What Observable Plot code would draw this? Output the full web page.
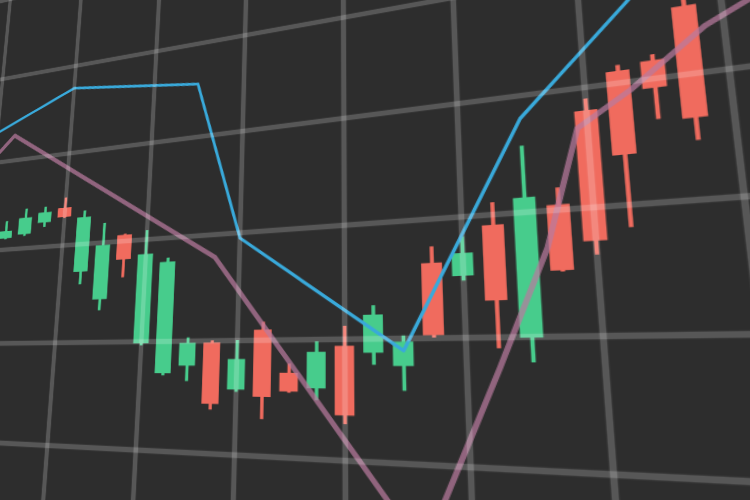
<!DOCTYPE html>
<html>
<head>
<meta charset="utf-8">
<script src="https://cdn.jsdelivr.net/npm/d3@7"></script>
<script src="https://cdn.jsdelivr.net/npm/@observablehq/plot@0.6"></script>
<style>
  html, body { margin: 0; padding: 0; background: #2d2d2d; width: 750px; height: 500px; overflow: hidden; }
  #chart { position: relative; width: 750px; height: 500px; overflow: hidden; }
</style>
</head>
<body>
<div id="chart"></div>
<script>
// ---- Data (candle index, prices) ----
const candleIndex = [1,2,3,4,5,6,7,8,9,10,11,12,13,14,15,16,17,18,19,20,21,22,23,24,25,26,27];
const openPrice  = [121.2,121.5,122.6,124.0,117.1,114.2,120.6,109.8,107.0,107.7,109.8,105.6,110.9,107.1,105.8,109.4,108.8,107.7,116.2,115.0,119.1,109.9,120.4,128.0,131.0,131.5,135.7];
const closePrice = [122.0,123.3,123.7,123.0,122.8,119.7,118.1,118.5,117.6,109.8,104.3,108.3,105.0,105.5,108.9,103.6,112.0,109.7,110.2,116.9,112.9,121.2,115.1,117.3,124.0,129.2,126.4];
const highPrice  = [123.1,124.3,124.3,125.1,123.5,122.0,120.7,120.9,118.0,110.3,110.0,110.0,111.6,107.9,109.8,111.1,112.8,110.2,117.6,118.3,121.0,125.6,121.8,129.0,131.5,132.0,137.5];
const lowPrice   = [121.1,121.3,122.1,122.9,115.8,113.1,116.3,109.6,106.8,106.3,103.8,105.4,103.1,105.4,104.8,102.9,107.8,105.7,110.0,114.6,109.1,108.0,115.0,116.2,118.2,126.6,124.6];

const blueIndex = [-2,0,4,10,12,18,22,28];
const blueValue = [131.5,133.5,137.4,135.6,119.5,109.0,128.0,143.6];

const pinkIndex = [-1,1,11,18.5,21,22.6,23.7,25.3,27.5,31];
const pinkValue = [128.4,132.9,117.8,93.5,107.6,117.0,126.6,129.3,133.8,138.5];

const xGridTicks = [-4,0,4,8,12,16,20,24,28,32];
const yGridTicks = [90,100,110,120,130,140,150];

// ---- Build tables ----
const candles = candleIndex.map((i, k) => ({
  i, open: openPrice[k], close: closePrice[k], high: highPrice[k], low: lowPrice[k],
  up: closePrice[k] >= openPrice[k]
}));
const blue = blueIndex.map((i, k) => ({i, v: blueValue[k]}));
const pink = pinkIndex.map((i, k) => ({i, v: pinkValue[k]}));

const GREEN = "#47cc8c", RED = "#f06b5e";

const chart = Plot.plot({
  width: 990,
  height: 770,
  margin: 0,
  x: {domain: [-4, 32], axis: null},
  y: {domain: [85, 155], axis: null},
  style: {background: "#2d2d2d", maxWidth: "none", overflow: "visible"},
  marks: [
    Plot.ruleX(candles, {x: "i", y1: "low", y2: "high", stroke: d => d.up ? GREEN : RED, strokeWidth: 3.5}),
    Plot.rect(candles, {
      x1: d => d.i - 0.34, x2: d => d.i + 0.34,
      y1: "open", y2: "close",
      fill: d => d.up ? GREEN : RED
    }),
    Plot.line(pink, {x: "i", y: "v", stroke: "#b87a9e", strokeWidth: 5, strokeOpacity: 0.72, strokeLinejoin: "round"}),
    Plot.line(blue, {x: "i", y: "v", stroke: "#39a9da", strokeWidth: 3.3, strokeLinejoin: "round"}),
    Plot.ruleX(xGridTicks, {stroke: "#ffffff", strokeOpacity: 0.2, strokeWidth: 5.5}),
    Plot.ruleY(yGridTicks, {stroke: "#ffffff", strokeOpacity: 0.2, strokeWidth: 5.5})
  ]
});

// ---- Perspective: map the flat chart plane onto the photographed plane ----
// grid anchors: (candle index, price) -> screen position
const anchors = [
  {i: 4,  p: 130, sx: 69,  sy: 153},
  {i: 4,  p: 100, sx: 47,  sy: 445},
  {i: 24, p: 130, sx: 584, sy: 87},
  {i: 24, p: 100, sx: 613, sy: 474}
];
const xs = chart.scale("x"), ys = chart.scale("y");
function solveHomography(src, dst) {
  const A = [], b = [];
  for (let k = 0; k < 4; k++) {
    const [x, y] = src[k], [X, Y] = dst[k];
    A.push([x, y, 1, 0, 0, 0, -x * X, -y * X]); b.push(X);
    A.push([0, 0, 0, x, y, 1, -x * Y, -y * Y]); b.push(Y);
  }
  const n = 8;
  for (let c = 0; c < n; c++) {
    let m = c;
    for (let r = c + 1; r < n; r++) if (Math.abs(A[r][c]) > Math.abs(A[m][c])) m = r;
    [A[c], A[m]] = [A[m], A[c]]; [b[c], b[m]] = [b[m], b[c]];
    for (let r = 0; r < n; r++) {
      if (r === c) continue;
      const f = A[r][c] / A[c][c];
      for (let j = c; j < n; j++) A[r][j] -= f * A[c][j];
      b[r] -= f * b[c];
    }
  }
  return b.map((v, k) => v / A[k][k]);
}
const src = anchors.map(a => [xs.apply(a.i), ys.apply(a.p)]);
const dst = anchors.map(a => [a.sx, a.sy]);
const h = solveHomography(src, dst);
chart.style.position = "absolute";
chart.style.left = "0px";
chart.style.top = "0px";
chart.style.height = "770px";
chart.style.transformOrigin = "0 0";
chart.style.transform = `matrix3d(${h[0]},${h[3]},0,${h[6]},${h[1]},${h[4]},0,${h[7]},0,0,1,0,${h[2]},${h[5]},0,1)`;
chart.style.filter = "blur(0.5px)";
document.getElementById("chart").appendChild(chart);
</script>
</body>
</html>
